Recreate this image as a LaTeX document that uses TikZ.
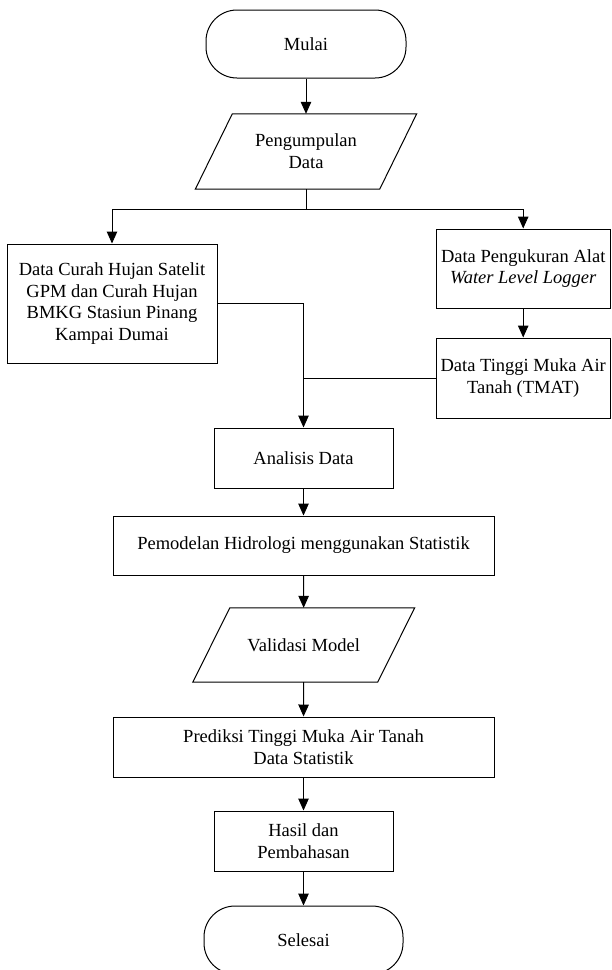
\documentclass[tikz,border=0pt]{standalone}
\usepackage{fontspec}
\setmainfont{Liberation Serif}
\usetikzlibrary{arrows.meta}
\begin{document}
\begin{tikzpicture}[x=1pt,y=-1pt,
  every node/.style={font=\fontsize{18.5}{21.7}\selectfont, align=center, inner sep=0pt},
  proc/.style={draw, line width=1pt},
  term/.style={draw, line width=1pt, rounded corners=31pt},
  line/.style={line width=1pt},
  conn/.style={line width=1pt, -{Triangle[width=10.5pt,length=12pt]}}]
\useasboundingbox (0,0) rectangle (611,970);

\node[term, minimum width=200pt, minimum height=68pt] (mulai) at (306,44) {Mulai};

\node[minimum width=184pt, minimum height=75pt] (pd) at (306,151.5) {Pengumpulan\\Data};
\draw[line] ([xshift=18.5pt]pd.north west) -- ([xshift=18.5pt]pd.north east)
  -- ([xshift=-18.5pt]pd.south east) -- ([xshift=-18.5pt]pd.south west) -- cycle;

\node[proc, minimum width=210pt, minimum height=119pt] (curah) at (112,303.5)
  {Data Curah Hujan Satelit\\GPM dan Curah Hujan\\BMKG Stasiun Pinang\\Kampai Dumai};
\node[proc, minimum width=174.4pt, minimum height=79pt] (wll) at (523.2,268.5)
  {Data Pengukuran Alat\\\textit{Water Level Logger}};
\node[proc, minimum width=174.4pt, minimum height=80pt] (tmat) at (523.2,378)
  {Data Tinggi Muka Air\\Tanah (TMAT)};

\node[proc, minimum width=179pt, minimum height=60pt] (analisis) at (303.5,458) {Analisis Data};
\node[proc, minimum width=381pt, minimum height=59pt] (model) at (303.5,545.5)
  {Pemodelan Hidrologi menggunakan Statistik};

\node[minimum width=184.5pt, minimum height=74pt] (valid) at (303.75,645) {Validasi Model};
\draw[line] ([xshift=18.5pt]valid.north west) -- ([xshift=18.5pt]valid.north east)
  -- ([xshift=-18.5pt]valid.south east) -- ([xshift=-18.5pt]valid.south west) -- cycle;

\node[proc, minimum width=381pt, minimum height=60pt] (pred) at (303.5,747)
  {Prediksi Tinggi Muka Air Tanah\\Data Statistik};
\node[proc, minimum width=179pt, minimum height=60pt] (hasil) at (303.5,841) {Hasil dan\\Pembahasan};

\begin{scope}
\clip (0,0) rectangle (611,970);
\node[term, minimum width=199pt, minimum height=68pt] (selesai) at (303.5,940) {Selesai};
\end{scope}

\draw[conn] (mulai) -- (pd);
\coordinate (br) at (306,209);
\draw[line] (pd.south) -- (br);
\draw[conn] (br) -| (curah.north);
\draw[conn] (br) -| (wll.north);
\draw[conn] (wll) -- (tmat);
\coordinate (j1) at (analisis.north |- curah.east);
\draw[line] (curah.east) -- (j1);
\draw[conn] (j1) -- (analisis.north);
\coordinate (j2) at (analisis.north |- tmat.west);
\draw[line] (tmat.west) -- (j2);
\draw[conn] (analisis) -- (model);
\draw[conn] (model) -- (valid);
\draw[conn] (valid) -- (pred);
\draw[conn] (pred) -- (hasil);
\draw[conn] (hasil) -- (selesai);
\end{tikzpicture}
\end{document}
